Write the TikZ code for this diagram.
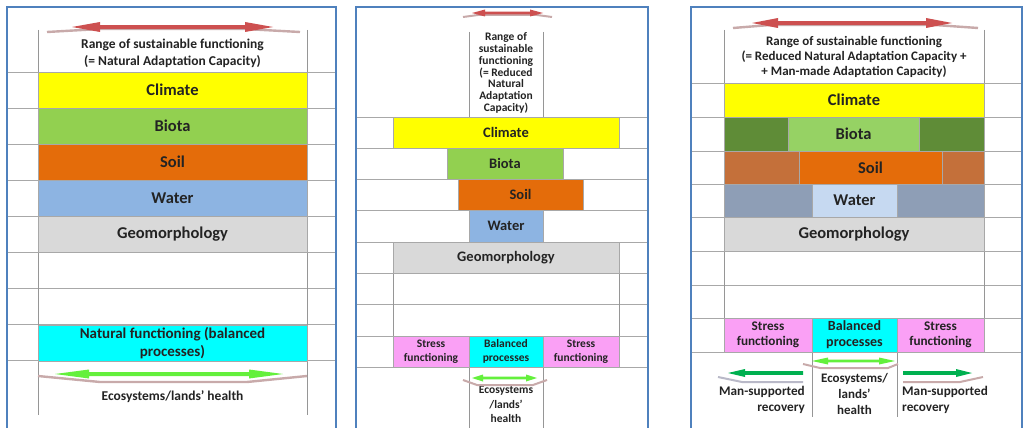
\documentclass[tikz,border=0pt]{standalone}
\usepackage{fontspec}
\setmainfont{Carlito}
\definecolor{frameblue}{RGB}{79,129,189}
\definecolor{gridc}{RGB}{168,168,168}
\definecolor{colc}{RGB}{150,150,150}
\definecolor{cyel}{RGB}{255,255,0}
\definecolor{cgreen}{RGB}{146,208,80}
\definecolor{corange}{RGB}{228,108,10}
\definecolor{cwater}{RGB}{141,180,226}
\definecolor{cgeo}{RGB}{217,217,217}
\definecolor{ccyan}{RGB}{0,255,255}
\definecolor{cpink}{RGB}{250,160,245}
\definecolor{cdgreen}{RGB}{95,140,55}
\definecolor{clgreen}{RGB}{150,210,100}
\definecolor{cbrown}{RGB}{196,112,58}
\definecolor{cgblue}{RGB}{142,158,182}
\definecolor{clblue}{RGB}{198,217,241}
\definecolor{cred}{RGB}{205,80,80}
\definecolor{cbgreen}{RGB}{100,240,60}
\definecolor{cagreen}{RGB}{0,176,80}
\definecolor{ribg}{RGB}{200,170,170}
\definecolor{ribb}{RGB}{185,185,200}
\definecolor{txt}{RGB}{35,35,35}
\newcommand\myDbl[7]{%
  \fill[#7] (#1,#3) -- ({#1+#4},{#3-#5}) -- ({#1+#4},{#3-#6}) -- ({#2-#4},{#3-#6}) -- ({#2-#4},{#3-#5}) -- (#2,#3) -- ({#2-#4},{#3+#5}) -- ({#2-#4},{#3+#6}) -- ({#1+#4},{#3+#6}) -- ({#1+#4},{#3+#5}) -- cycle;}
\newcommand\mySgl[7]{% tail tip y h(signed) H s color
  \fill[#7] (#1,{#3-#6}) -- ({#2-#4},{#3-#6}) -- ({#2-#4},{#3-#5}) -- (#2,#3) -- ({#2-#4},{#3+#5}) -- ({#2-#4},{#3+#6}) -- (#1,{#3+#6}) -- cycle;}
\begin{document}
\begin{tikzpicture}[x=1pt,y=-1pt,
  frame/.style={draw=frameblue,line width=2pt},
  grid/.style={draw=gridc,line width=0.7pt},
  col/.style={draw=colc,line width=0.9pt},
  box/.style={draw=gridc,line width=0.6pt,inner sep=0pt,text=txt},
  ribbon/.style={draw=ribg,line width=2.4pt,line join=round},
  ribbonb/.style={draw=ribb,line width=2.4pt,line join=round},
  plain/.style={inner sep=0pt,text=txt,align=center},
  Abig/.style={font=\fontsize{16.5}{19}\selectfont\bfseries},
  Amid/.style={font=\fontsize{13.5}{17}\selectfont\bfseries},
  Bbig/.style={font=\fontsize{14.5}{17}\selectfont\bfseries},
  Bsm/.style={font=\fontsize{11.5}{14.5}\selectfont\bfseries},
  Cbig/.style={font=\fontsize{16.5}{19}\selectfont\bfseries},
  Cmid/.style={font=\fontsize{13.2}{15.5}\selectfont\bfseries}
]
\useasboundingbox (0,0) rectangle (1025,428);
\fill[white] (0,0) rectangle (1025,428);
% frames
\draw[frame] (7,440) -- (7,7) -- (336,7) -- (336,440);
\draw[frame] (356,440) -- (356,7) -- (648,7) -- (648,440);
\draw[frame] (691,440) -- (691,7) -- (1022,7) -- (1022,440);
% ---------- panel 1 ----------
\foreach \yy in {72,108,144,180,216,252,288,324,360} \draw[grid] (8,\yy) -- (335,\yy);
\draw[col] (38,30) -- (38,415);
\draw[col] (307,30) -- (307,415);
\node[box,fill=cyel,minimum width=269,minimum height=36,Abig] (a1) at (172.5,90) {Climate};
\node[box,fill=cgreen,minimum width=269,minimum height=36,Abig] (a2) at (172.5,126) {Biota};
\node[box,fill=corange,minimum width=269,minimum height=36,Abig] (a3) at (172.5,162) {Soil};
\node[box,fill=cwater,minimum width=269,minimum height=36,Abig] (a4) at (172.5,198) {Water};
\node[box,fill=cgeo,minimum width=269,minimum height=36,Abig] (a5) at (172.5,234) {Geomorphology};
\node[box,fill=ccyan,minimum width=269,minimum height=36,align=center,font=\fontsize{15}{18.5}\selectfont\bfseries] (a6) at (172.5,343) {Natural functioning (balanced\\processes)};
\node[plain,Amid] (atop) at (172.5,53) {Range of sustainable functioning\\(= Natural Adaptation Capacity)};
\node[plain,Amid] (abot) at (172.5,397) {Ecosystems/lands’ health};
\draw[ribbon] (47,32) -- (100,29) -- (245,29) -- (300,32);
\myDbl{72}{273}{27}{28}{5}{1.8}{cred}
\draw[ribbon] (38,376) -- (100,382) -- (247,382) -- (307,376);
\myDbl{55}{283}{374}{34}{4.5}{2}{cbgreen}
% ---------- panel 2 ----------
\foreach \yy in {117,148,179,210,242,273,304,336,367} \draw[grid] (357,\yy) -- (647,\yy);
\draw[col] (469,32) -- (469,117);
\draw[col] (543,32) -- (543,117);
\draw[col] (393,242) -- (393,367);
\draw[col] (619,242) -- (619,367);
\draw[col] (469,367) -- (469,430);
\draw[col] (543,367) -- (543,430);
\node[box,fill=cyel,minimum width=226,minimum height=31,Bbig] (b1) at (506,132.5) {Climate};
\node[box,fill=cgreen,minimum width=116,minimum height=31,Bbig] (b2) at (505,163.5) {Biota};
\node[box,fill=corange,minimum width=125,minimum height=31,Bbig] (b3) at (520.5,194.5) {Soil};
\node[box,fill=cwater,minimum width=74,minimum height=32,Bbig] (b4) at (506,226) {Water};
\node[box,fill=cgeo,minimum width=226,minimum height=31,Bbig] (b5) at (506,257.5) {Geomorphology};
\node[box,fill=cpink,minimum width=76,minimum height=31,align=center,Bsm] (b6) at (431,351.5) {Stress\\functioning};
\node[box,fill=ccyan,minimum width=74,minimum height=31,align=center,Bsm] (b7) at (506,351.5) {Balanced\\processes};
\node[box,fill=cpink,minimum width=76,minimum height=31,align=center,Bsm] (b8) at (581,351.5) {Stress\\functioning};
\node[plain,font=\fontsize{11.5}{11.8}\selectfont\bfseries] (btop) at (506,73) {Range of\\sustainable\\functioning\\(= Reduced\\Natural\\Adaptation\\Capacity)};
\node[plain,Bsm] (bbot) at (506,404.5) {Ecosystems\\/lands’\\health};
\draw[ribbon,line width=2pt] (463,17) -- (478,15) -- (537,15) -- (552,17);
\myDbl{472}{543}{13}{13}{3.5}{1.3}{cred}
\draw[ribbon,line width=2pt] (463,380) -- (477,385) -- (533,385) -- (547,380);
\myDbl{472}{537}{378}{11}{3.5}{1.4}{cbgreen}
% ---------- panel 3 ----------
\foreach \yy in {83,117,151,184,217,251,285,318,352} \draw[grid] (692,\yy) -- (1021,\yy);
\draw[col] (724,30) -- (724,352);
\draw[col] (984,30) -- (984,352);
\draw[col] (812,352) -- (812,417);
\draw[col] (897,352) -- (897,417);
\node[box,fill=cyel,minimum width=260,minimum height=34,Cbig] (c1) at (854,100) {Climate};
\node[box,fill=cdgreen,minimum width=64,minimum height=34] (c2l) at (756,134) {};
\node[box,fill=clgreen,minimum width=131,minimum height=34,Cbig] (c2) at (853.5,134) {Biota};
\node[box,fill=cdgreen,minimum width=65,minimum height=34] (c2r) at (951.5,134) {};
\node[box,fill=cbrown,minimum width=75,minimum height=33] (c3l) at (761.5,167.5) {};
\node[box,fill=corange,minimum width=143,minimum height=33,Cbig] (c3) at (870.5,167.5) {Soil};
\node[box,fill=cbrown,minimum width=42,minimum height=33] (c3r) at (963,167.5) {};
\node[box,fill=cgblue,minimum width=88,minimum height=33] (c4l) at (768,200.5) {};
\node[box,fill=clblue,minimum width=85,minimum height=33,Cbig] (c4) at (854.5,200.5) {Water};
\node[box,fill=cgblue,minimum width=87,minimum height=33] (c4r) at (940.5,200.5) {};
\node[box,fill=cgeo,minimum width=260,minimum height=34,Cbig] (c5) at (854,234) {Geomorphology};
\node[box,fill=cpink,minimum width=88,minimum height=34,align=center,Cmid] (c6) at (768,335) {Stress\\functioning};
\node[box,fill=ccyan,minimum width=85,minimum height=34,align=center,font=\fontsize{14}{16}\selectfont\bfseries] (c7) at (854.5,335) {Balanced\\processes};
\node[box,fill=cpink,minimum width=87,minimum height=34,align=center,Cmid] (c8) at (940.5,335) {Stress\\functioning};
\node[plain,Cmid,font=\fontsize{13}{15}\selectfont\bfseries] (ctop) at (854,57) {Range of sustainable functioning\\(= Reduced Natural Adaptation Capacity +\\+ Man-made Adaptation Capacity)};
\node[plain,Cmid,align=right,anchor=east] (cl) at (805,400) {Man-supported\\recovery};
\node[plain,Cmid,font=\fontsize{13}{16}\selectfont\bfseries] (cm) at (854.5,394) {Ecosystems/\\lands’\\health};
\node[plain,Cmid,align=left,anchor=west] (cr) at (902,400) {Man-supported\\recovery};
\draw[ribbon] (733,28) -- (770,25) -- (935,25) -- (978,28);
\myDbl{752}{952}{23}{26}{5}{1.8}{cred}
\draw[ribbon,line width=2pt] (803,364) -- (820,368) -- (888,368) -- (898,364);
\myDbl{812}{895}{361}{16}{3.5}{1.4}{cbgreen}
\draw[ribbonb,line width=2pt] (718,377) -- (742,382) -- (803,382);
\mySgl{803}{728}{373}{-17}{4}{1.8}{cagreen}
\draw[ribbon,line width=2pt] (903,382) -- (960,382) -- (983,377);
\mySgl{903}{972}{373}{16}{4}{1.8}{cagreen}
\end{tikzpicture}
\end{document}
